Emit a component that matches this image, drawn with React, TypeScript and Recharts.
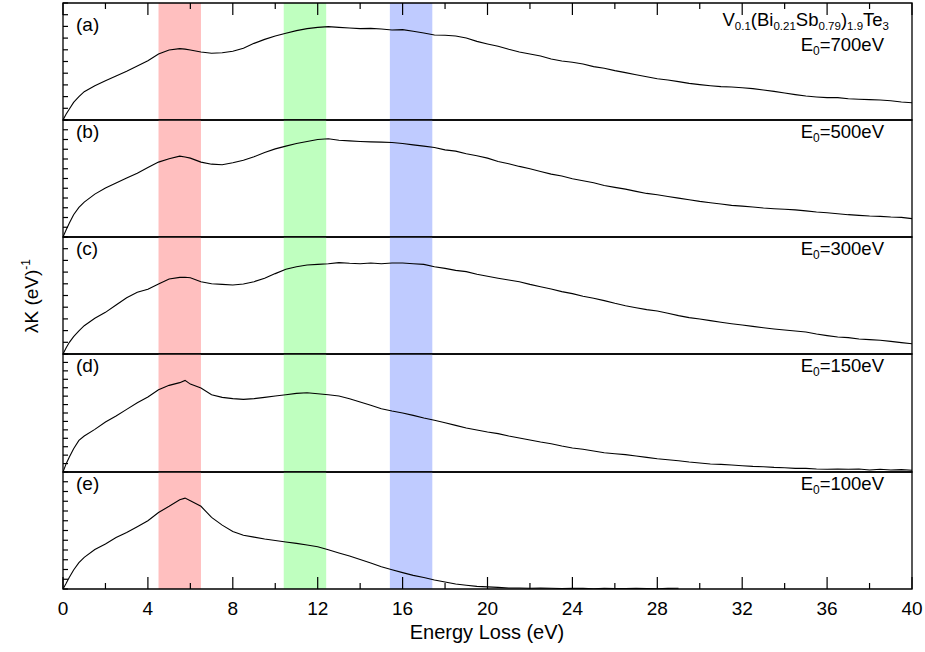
import React from "react";
import { LineChart, Line, XAxis, YAxis, ReferenceArea } from "recharts";

// energy loss grid (eV)
const energy = [
  0, 0.15, 0.3, 0.5, 0.75, 1,
  1.5, 2, 2.5, 3, 3.5, 4, 4.5, 5, 5.5, 5.75, 6,
  6.5, 7, 7.5, 8, 8.5, 9, 9.5, 10, 10.5, 11, 11.5, 12,
  12.5, 13, 13.5, 14, 14.5, 15, 15.5, 16, 16.5, 17, 17.5, 18,
  18.5, 19, 19.5, 20, 20.5, 21, 21.5, 22, 22.5, 23, 23.5, 24,
  24.5, 25, 25.5, 26, 26.5, 27, 27.5, 28, 28.5, 29, 29.5, 30,
  30.5, 31, 31.5, 32, 32.5, 33, 33.5, 34, 34.5, 35, 35.5, 36,
  36.5, 37, 37.5, 38, 38.5, 39, 39.5, 40
];

// lambda*K, arbitrary units (one panel tick = 1)
const loss700 = [
  0, 0.51, 0.94, 1.51, 1.99, 2.42,
  2.93, 3.36, 3.76, 4.16, 4.62, 5.07, 5.64, 5.98, 6.10, 6.06, 5.98,
  5.81, 5.70, 5.75, 5.87, 6.13, 6.55, 6.89, 7.18, 7.41, 7.64, 7.81, 7.92,
  7.98, 7.92, 7.86, 7.81, 7.83, 7.78, 7.69, 7.72, 7.58, 7.44, 7.26, 7.24,
  7.18, 7.01, 6.72, 6.50, 6.30, 6.04, 5.81, 5.64, 5.47, 5.21, 5.04, 4.93,
  4.79, 4.56, 4.42, 4.22, 4.05, 3.87, 3.70, 3.53, 3.42, 3.28, 3.13, 3.02,
  2.93, 2.85, 2.82, 2.76, 2.68, 2.56, 2.45, 2.31, 2.17, 2.05, 1.97, 1.91,
  1.91, 1.82, 1.77, 1.74, 1.71, 1.65, 1.54, 1.48
];

const loss500 = [
  0, 0.75, 1.43, 2.29, 3.04, 3.58,
  4.40, 5.02, 5.53, 6.04, 6.55, 7.13, 7.68, 8.02, 8.29, 8.20, 8.09,
  7.68, 7.47, 7.41, 7.61, 7.88, 8.23, 8.67, 9.04, 9.32, 9.59, 9.80, 10.0,
  10.07, 9.93, 9.86, 9.80, 9.76, 9.73, 9.69, 9.59, 9.45, 9.32, 9.18, 8.94,
  8.81, 8.53, 8.33, 8.09, 7.75, 7.51, 7.24, 7.00, 6.72, 6.45, 6.25, 5.97,
  5.77, 5.56, 5.29, 5.09, 4.91, 4.68, 4.47, 4.33, 4.16, 3.99, 3.82, 3.65,
  3.52, 3.38, 3.24, 3.17, 3.07, 2.97, 2.90, 2.85, 2.78, 2.68, 2.56, 2.49,
  2.39, 2.29, 2.22, 2.15, 2.12, 2.05, 2.01, 1.88
];

const loss300 = [
  0, 0.54, 1.00, 1.48, 1.97, 2.42,
  3.05, 3.56, 4.19, 4.81, 5.27, 5.53, 5.98, 6.41, 6.55, 6.56, 6.52,
  6.18, 6.01, 5.95, 5.90, 5.98, 6.18, 6.47, 6.87, 7.24, 7.46, 7.61, 7.66,
  7.72, 7.81, 7.75, 7.72, 7.78, 7.72, 7.78, 7.78, 7.72, 7.66, 7.46, 7.32,
  7.15, 7.04, 6.81, 6.64, 6.47, 6.32, 6.18, 5.95, 5.75, 5.56, 5.33, 5.16,
  4.93, 4.76, 4.56, 4.33, 4.13, 3.96, 3.79, 3.68, 3.48, 3.28, 3.11, 2.99,
  2.85, 2.71, 2.59, 2.48, 2.36, 2.25, 2.14, 2.05, 1.97, 1.88, 1.71, 1.57,
  1.45, 1.40, 1.28, 1.23, 1.17, 1.08, 0.97, 0.88
];

const loss150 = [
  0, 0.99, 1.78, 2.77, 3.75, 4.27,
  5.06, 5.93, 6.64, 7.43, 8.22, 8.89, 9.76, 10.28, 10.60, 10.87, 10.43,
  9.96, 9.17, 8.85, 8.70, 8.62, 8.70, 8.85, 9.01, 9.17, 9.33, 9.41, 9.29,
  9.17, 9.01, 8.70, 8.30, 7.91, 7.51, 7.23, 7.00, 6.72, 6.40, 6.13, 5.85,
  5.53, 5.22, 4.98, 4.74, 4.55, 4.27, 4.03, 3.79, 3.56, 3.36, 3.08, 2.85,
  2.69, 2.49, 2.29, 2.17, 2.06, 1.90, 1.74, 1.58, 1.46, 1.34, 1.19, 1.07,
  0.95, 0.91, 0.83, 0.75, 0.67, 0.63, 0.55, 0.51, 0.43, 0.43, 0.36, 0.32,
  0.36, 0.32, 0.36, 0.24, 0.32, 0.24, 0.28, 0.20
];

// 100 eV spectrum stops at ~29 eV
const loss100 = [
  0, 0.58, 1.20, 1.95, 2.70, 3.25,
  4.05, 4.62, 5.28, 5.80, 6.39, 7.00, 7.85, 8.48, 9.15, 9.32, 9.05,
  8.48, 7.35, 6.55, 5.90, 5.52, 5.32, 5.12, 4.98, 4.82, 4.68, 4.52, 4.33,
  4.02, 3.70, 3.38, 3.02, 2.66, 2.28, 1.97, 1.68, 1.40, 1.18, 0.92, 0.72,
  0.51, 0.38, 0.27, 0.22, 0.17, 0.11, 0.10, 0.07, 0.10, 0.07, 0.05, 0.08,
  0.06, 0.03, 0.07, 0.05, 0.04, 0.07, 0.05, 0.03, 0.06, 0.08
];

const panelLetters = ["(a)", "(b)", "(c)", "(d)", "(e)"];
const beamEnergies = ["700", "500", "300", "150", "100"];
const yTickCounts = [10, 12, 10, 14, 12];
const series = [loss700, loss500, loss300, loss150, loss100];

const xTicks = [0, 2, 4, 6, 8, 10, 12, 14, 16, 18, 20, 22, 24, 26, 28, 30, 32, 34, 36, 38, 40];
const bandStart = [4.5, 10.4, 15.4];
const bandEnd = [6.5, 12.4, 17.4];

const FONT = "Arial, 'Liberation Sans', sans-serif";
const BAND_COLORS = ["#ffbfbf", "#bfffbf", "#bfcbff"];
const PANEL_TOP = [3, 120, 237, 354, 472, 589];

function XTick(props: any) {
  const { x, y, payload, side } = props;
  const v = payload.value;
  const major = v % 4 === 0;
  const len = major ? 12 : 6;
  const dir = side === "top" ? 1 : -1;
  return (
    <g>
      <line x1={x} x2={x} y1={y} y2={y + dir * len} stroke="#000" strokeWidth={1.2} />
      {side === "bottom" && major ? (
        <text x={x} y={y + 26} textAnchor="middle" fontSize={19} fontFamily={FONT} fill="#000">
          {v}
        </text>
      ) : null}
    </g>
  );
}

function YTick(props: any) {
  const { x, y } = props;
  return <line x1={x} x2={x + 5} y1={y} y2={y} stroke="#000" strokeWidth={1.2} />;
}

function Panel({ index }: { index: number }) {
  const values = series[index];
  const n = yTickCounts[index];
  const rows = energy.map((x, i) => ({ x, y: i < values.length ? values[i] : null }));
  const yTicks = Array.from({ length: n + 1 }, (_, i) => i);
  const first = index === 0;
  const last = index === series.length - 1;
  const top = PANEL_TOP[index];
  const h = PANEL_TOP[index + 1] - top;
  const mTop = first ? 3 : 4;
  const mBottom = last ? 59 : 4;
  const chartH = 4 + h + (last ? 60 : 4);
  const side = first ? "top" : last ? "bottom" : "none";

  return (
    <div style={{ position: "absolute", left: 0, top: top - 4 }}>
      <LineChart width={925} height={chartH} data={rows} margin={{ top: mTop, right: 13, bottom: mBottom, left: 62 }}>
        <XAxis
          dataKey="x"
          type="number"
          domain={[0, 40]}
          ticks={xTicks}
          interval={0}
          allowDataOverflow
          orientation={first ? "top" : "bottom"}
          hide={side === "none"}
          height={1}
          tickSize={0}
          tickMargin={0}
          tickLine={false}
          axisLine={false}
          tick={(p: any) => <XTick {...p} side={side} />}
        />
        <YAxis
          type="number"
          domain={[0, n]}
          ticks={yTicks}
          interval={0}
          allowDataOverflow
          width={1}
          tickSize={0}
          tickMargin={0}
          tickLine={false}
          axisLine={false}
          tick={(p: any) => <YTick {...p} />}
        />
        {bandStart.map((b, i) => (
          <ReferenceArea
            key={b}
            x1={b}
            x2={bandEnd[i]}
            y1={0}
            y2={n}
            fill={BAND_COLORS[i]}
            fillOpacity={1}
            stroke="none"
          />
        ))}
        <ReferenceArea x1={0} x2={40} y1={0} y2={n} fill="none" stroke="#000" strokeWidth={1.3} />
        <Line
          dataKey="y"
          type="linear"
          stroke="#000"
          strokeWidth={1.1}
          dot={false}
          activeDot={false}
          connectNulls={false}
          isAnimationActive={false}
        />
      </LineChart>
    </div>
  );
}

export default function App() {
  const letterBase = [31, 138, 255, 372, 490];
  const beamBase = [51, 138, 255, 372, 490];
  return (
    <div style={{ position: "absolute", left: 0, top: 0, width: 925, height: 652, background: "#fff", overflow: "hidden" }}>
      {series.map((_, i) => (
        <Panel key={i} index={i} />
      ))}
      <svg width={925} height={652} style={{ position: "absolute", left: 0, top: 0, pointerEvents: "none" }}>
        <g fontFamily={FONT} fill="#000">
          {panelLetters.map((t, i) => (
            <text key={t} x={76} y={letterBase[i]} fontSize={19}>
              {t}
            </text>
          ))}
          {beamEnergies.map((e, i) => (
            <text key={e} x={884} y={beamBase[i]} textAnchor="end" fontSize={18.5}>
              E<tspan fontSize={12} dy={4}>0</tspan>
              <tspan dy={-4}>={e}eV</tspan>
            </text>
          ))}
          <text x={889} y={26} textAnchor="end" fontSize={18.5}>
            V<tspan fontSize={11.5} dy={3.5}>0.1</tspan>
            <tspan dy={-3.5}>(Bi</tspan>
            <tspan fontSize={11.5} dy={3.5}>0.21</tspan>
            <tspan dy={-3.5}>Sb</tspan>
            <tspan fontSize={11.5} dy={3.5}>0.79</tspan>
            <tspan dy={-3.5}>)</tspan>
            <tspan fontSize={11.5} dy={3.5}>1.9</tspan>
            <tspan dy={-3.5}>Te</tspan>
            <tspan fontSize={11.5} dy={3.5}>3</tspan>
          </text>
          <text x={487} y={639} textAnchor="middle" fontSize={20}>
            Energy Loss (eV)
          </text>
          <text x={38} y={296} textAnchor="middle" transform="rotate(-90 38 296)" fontSize={19}>
            λK (eV)<tspan fontSize={12} dy={-8}>-1</tspan>
          </text>
        </g>
      </svg>
    </div>
  );
}
